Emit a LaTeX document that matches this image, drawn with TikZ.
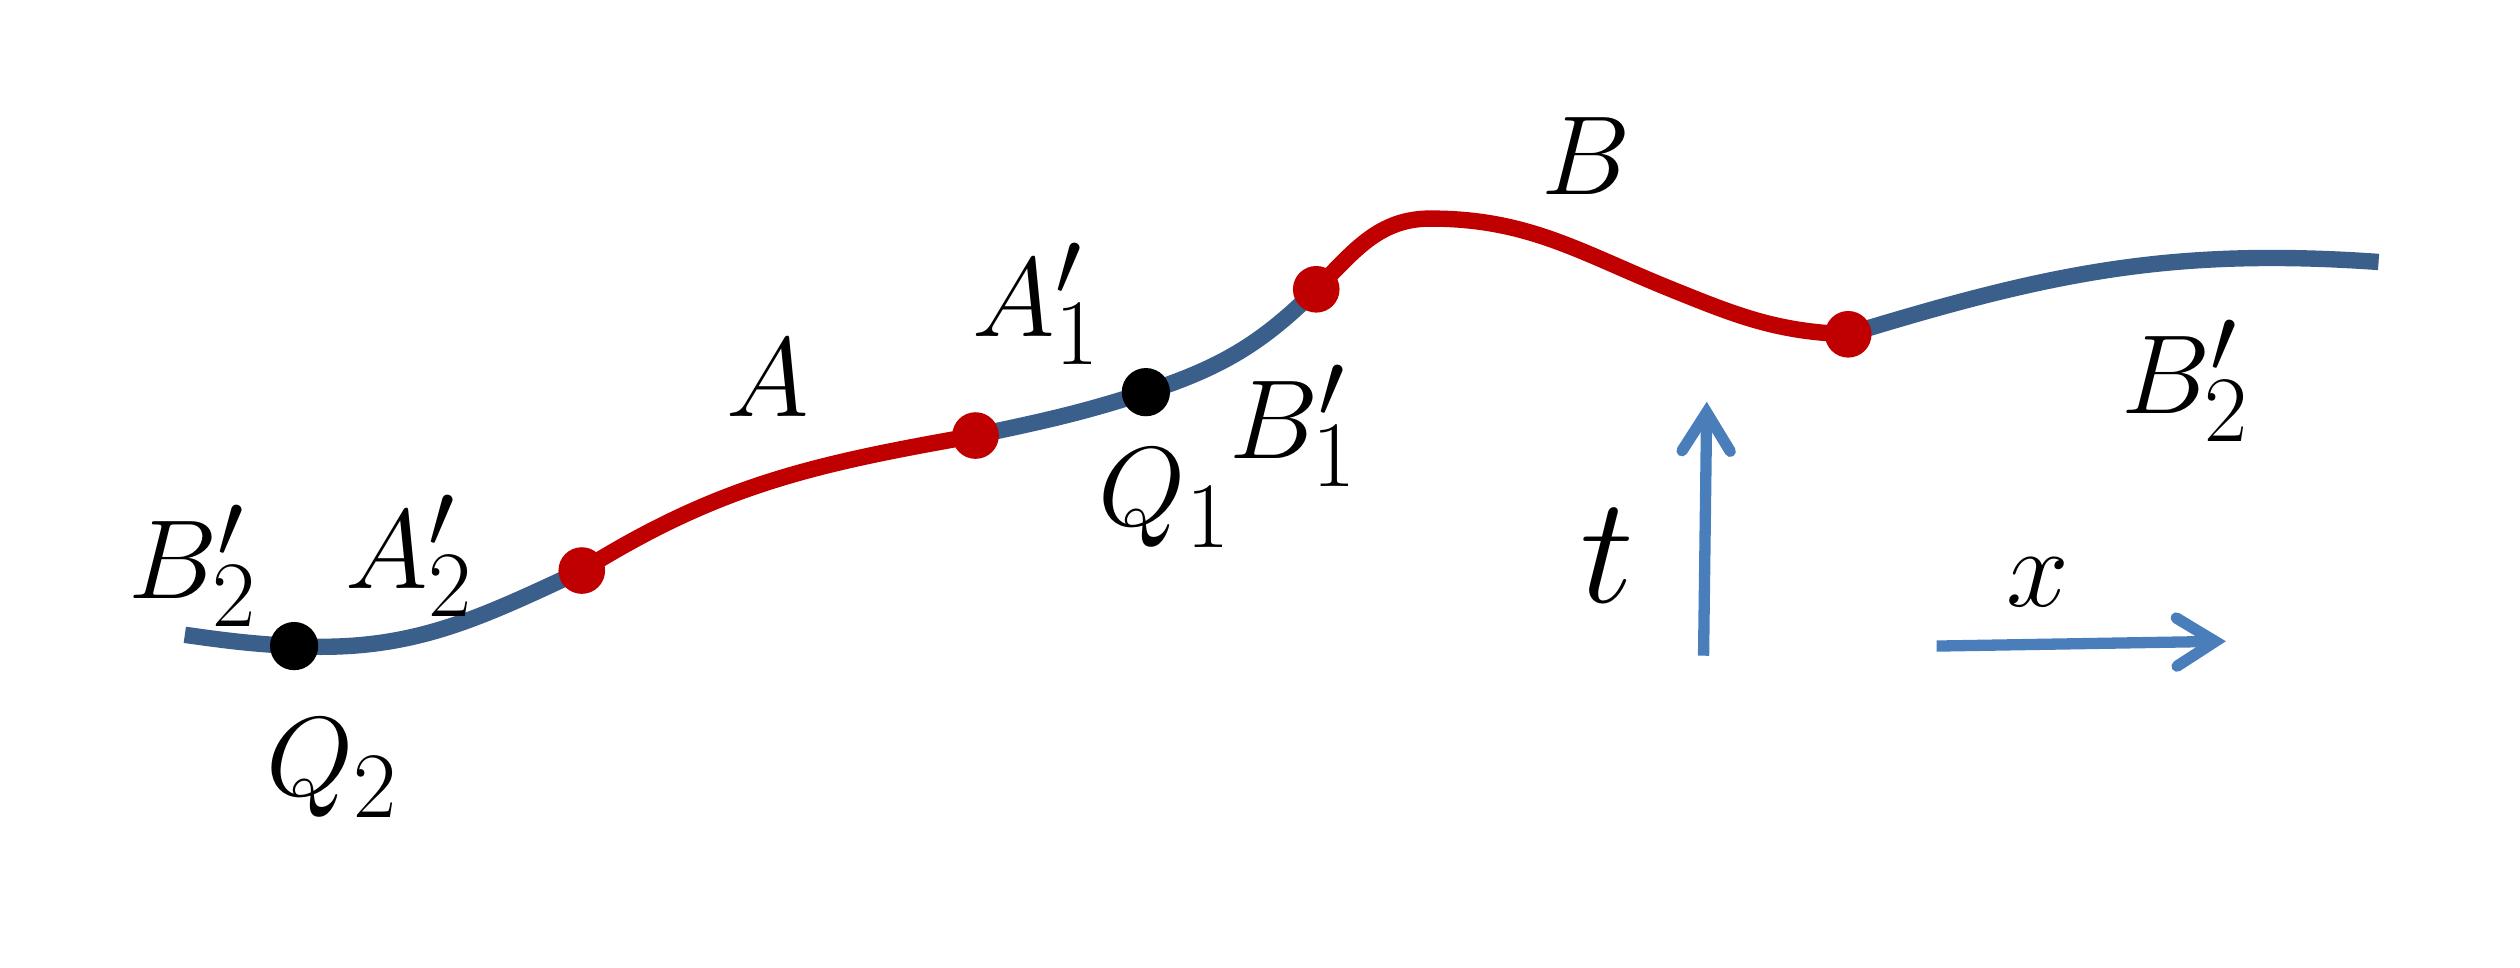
\documentclass[tikz,border=0pt]{standalone}
\usetikzlibrary{arrows.meta}
\definecolor{curveblue}{HTML}{3A5F8B}
\definecolor{curvered}{HTML}{C00000}
\definecolor{axisblue}{HTML}{4A7EBB}
\tikzset{
  bluecurve/.style={draw=curveblue, line width=2.9pt},
  redcurve/.style={draw=curvered, line width=2.9pt},
  reddot/.style={circle, fill=curvered, inner sep=0pt, minimum size=0.29cm},
  blackdot/.style={circle, fill=black, inner sep=0pt, minimum size=0.3cm},
  lbl/.style={inner sep=0pt, font=\Huge, scale=0.8},
  biglbl/.style={inner sep=0pt, font=\Huge, scale=1.08},
  axisarrow/.style={draw=axisblue, line width=2pt,
    -{Straight Barb[length=0.24cm, width=0.3cm, line cap=round, line width=2pt]}}
}
\begin{document}
\begin{tikzpicture}[x=0.01cm, y=0.01cm]
\useasboundingbox (0,0) rectangle (1568,602);
% positions
\coordinate (L)  at (115,207);
\coordinate (q2) at (183,200);
\coordinate (r1) at (362,247);
\coordinate (r2) at (607,331);
\coordinate (q1) at (713,358);
\coordinate (r3) at (819,422);
\coordinate (pk) at (890,466);
\coordinate (md) at (1040,422);
\coordinate (r4) at (1150,394);
\coordinate (E)  at (1480,439);
% curve segments
\draw[bluecurve] (L) to[out=-8,in=177] (q2) to[out=-3,in=205] (r1);
\draw[redcurve] (r1) to[out=32,in=190] (r2);
\draw[bluecurve] (r2) to[out=12,in=198] (q1) to[out=18,in=225] (r3);
\draw[redcurve] (r3) to[out=45,in=180] (pk) to[out=0,in=158] (md) to[out=-22,in=178] (r4);
\draw[bluecurve] (r4) to[out=17,in=176] (E);
% dots
\node[blackdot] (Q2) at (q2) {};
\node[reddot] (R1) at (r1) {};
\node[reddot] (R2) at (r2) {};
\node[blackdot] (Q1) at (q1) {};
\node[reddot] (R3) at (r3) {};
\node[reddot] (R4) at (r4) {};
% labels
\node[lbl] (lB2a) at (120,250) {$B'_2$};
\node[lbl] (lA2)  at (255,256) {$A'_2$};
\node[lbl] (lQ2)  at (207,124) {$Q_2$};
\node[lbl] (lA)   at (478,367) {$A$};
\node[lbl] (lA1)  at (645,413) {$A'_1$};
\node[lbl] (lQ1)  at (725,292) {$Q_1$};
\node[lbl] (lB1)  at (805,337) {$B'_1$};
\node[lbl] (lB)   at (987,505) {$B$};
\node[lbl] (lB2b) at (1360,365) {$B'_2$};
\node[biglbl] (lt) at (1000,256) {$t$};
\node[lbl] (lx)   at (1268,240) {$x$};
% axes
\coordinate (tS) at (1060,194);
\coordinate (tE) at (1062,352);
\coordinate (xS) at (1205,200);
\coordinate (xE) at (1385,203);
\draw[axisarrow] (tS) -- (tE);
\draw[axisarrow] (xS) -- (xE);
\end{tikzpicture}
\end{document}
